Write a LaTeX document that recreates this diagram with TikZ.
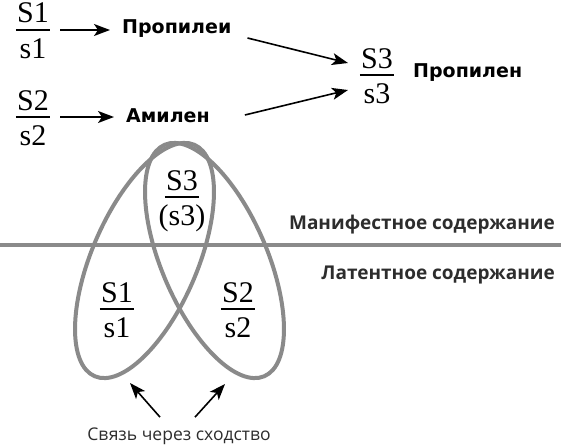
\documentclass[tikz,border=0pt]{standalone}
\usepackage{fontspec}
\setmainfont{Liberation Serif}
\newfontfamily\lblfont{DejaVu Sans}
\newfontfamily\capfont{Open Sans}
\usetikzlibrary{arrows.meta}
\definecolor{ellgray}{RGB}{138,138,138}
\definecolor{txtgray}{RGB}{45,45,45}
\tikzset{
  ell/.style={draw=ellgray, line width=4pt},
  sep/.style={draw=ellgray, line width=3.3pt},
  arr/.style={draw=black, line width=1.6pt, -{Stealth[length=16pt,width=12pt,inset=4pt]}},
  fracnum/.style={font=\fontsize{30}{30}\selectfont, inner sep=0pt, anchor=base},
  fracbar/.style={line width=1.3pt},
  boldlbl/.style={font=\lblfont\bfseries\fontsize{19}{19}\selectfont, inner sep=0pt},
  layerlbl/.style={font=\capfont\bfseries\fontsize{19}{19}\selectfont, text=txtgray, inner sep=0pt, anchor=base east},
  caplbl/.style={font=\capfont\fontsize{17.5}{17.5}\selectfont, text=txtgray, inner sep=0pt, anchor=base},
}
% name, x, y (bar centre), numerator, denominator
\newcommand\myfrac[5]{%
  \coordinate (#1b) at (#2,#3);
  \node[fracnum] (#1n) at (#2,#3-7) {#4};
  \node[fracnum] (#1d) at (#2,#3+28) {#5};
  \draw[fracbar] ([xshift=-1pt]#1n.west |- #1b) -- ([xshift=1pt]#1n.east |- #1b);
}
\begin{document}
\begin{tikzpicture}[x=1pt,y=-1pt]
\useasboundingbox (0,0) rectangle (561,444);
% top part
\myfrac{fa}{33}{30}{S1}{s1}
\myfrac{fb}{33}{117}{S2}{s2}
\myfrac{fc}{377}{75}{S3}{s3}
\node[boldlbl, anchor=base west] (p1) at (122,34) {Пропилеи};
\node[boldlbl, anchor=base west] (a1) at (126,122) {Амилен};
\node[boldlbl, anchor=base west] (p2) at (413,77) {Пропилен};
\draw[arr] ([xshift=11pt]fan.east |- fab) -- ([xshift=-12pt]p1.west |- fab);
\draw[arr] ([xshift=11pt]fbn.east |- fbb) -- ([xshift=-12pt]a1.west |- fbb);
\draw[arr] ([xshift=16pt,yshift=-4pt]p1.base east) -- ([xshift=-29pt,yshift=12pt]fcb);
\draw[arr] ([xshift=35pt,yshift=7pt]a1.base east) -- ([xshift=-29pt,yshift=-15pt]fcb);
% separator line
\coordinate (hl) at (0,245);
\coordinate (hr) at (561,245);
\draw[sep] (hl) -- (hr);
% ellipses
\coordinate (lc) at (144.5,260.5);
\coordinate (rc) at (214.5,260.5);
\draw[ell, rotate around={-23.3:(lc)}] (lc) ellipse [x radius=52.7pt, y radius=126pt];
\draw[ell, rotate around={23.3:(rc)}] (rc) ellipse [x radius=52.7pt, y radius=126pt];
\myfrac{fd}{182}{197}{S3}{(s3)}
\myfrac{fe}{117}{309}{S1}{s1}
\myfrac{ff}{238}{309}{S2}{s2}
% layer labels
\node[layerlbl] (man) at (555,229) {Манифестное содержание};
\node[layerlbl] (lat) at (555,279) {Латентное содержание};
% caption and arrows
\node[caplbl] (cap) at (179,440) {Связь через сходство};
\coordinate (lt) at (130,383);
\coordinate (rt) at (225,384);
\draw[arr] ([xshift=-19pt,yshift=10pt]cap.north) -- (lt);
\draw[arr] ([xshift=16pt,yshift=10pt]cap.north) -- (rt);
\end{tikzpicture}
\end{document}
